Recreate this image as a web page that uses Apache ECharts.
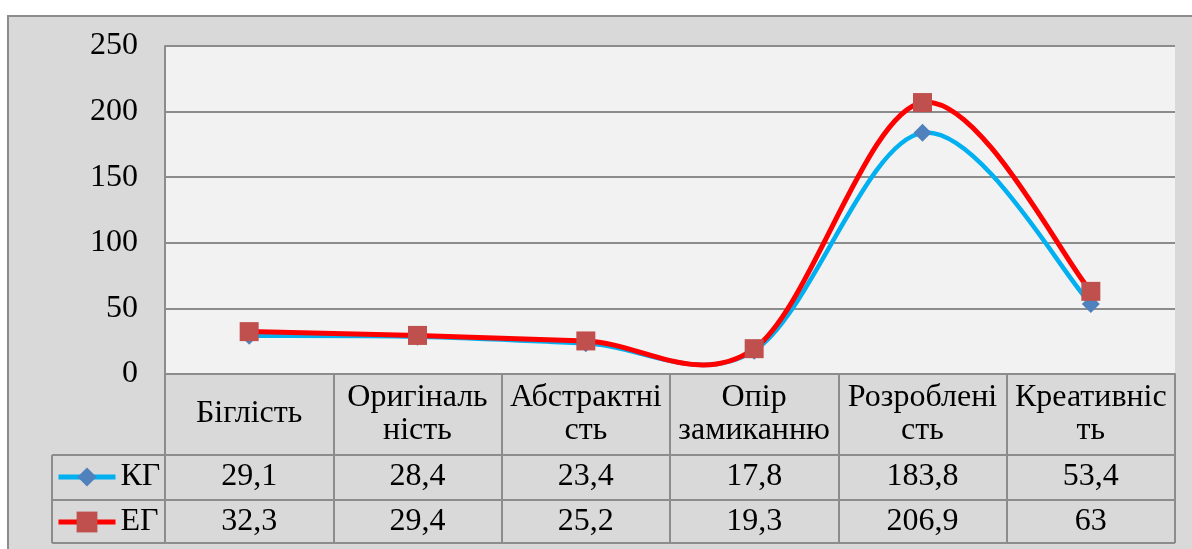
<!DOCTYPE html>
<html><head><meta charset="utf-8">
<script src="https://cdn.jsdelivr.net/npm/echarts@6/dist/echarts.min.js"></script>
<style>html,body{margin:0;padding:0;background:#fff}#c{width:1192px;height:549px}</style>
</head><body><div id="c"></div>
<script>
var categories = ['Біглість', 'Оригіналь\nність', 'Абстрактні\nсть', 'Опір\nзамиканню', 'Розроблені\nсть', 'Креативніс\nть'];
var kgValues = [29.1, 28.4, 23.4, 17.8, 183.8, 53.4];
var egValues = [32.3, 29.4, 25.2, 19.3, 206.9, 63];
var yTicks = {min: 0, max: 250, interval: 50};
var seriesNames = ['КГ', 'ЕГ'];

function fmt(v){ return String(v).replace('.', ','); }
var FONT = '"Liberation Serif", "Times New Roman", serif';
var FS = 32;
var GRID = '#8c8c8c';
var chart = echarts.init(document.getElementById('c'));
function hline(y){ return {type:'line', shape:{x1:52,y1:y,x2:1175,y2:y}, style:{stroke:GRID,lineWidth:2}, z:10}; }
var legText = {fontFamily:FONT,fontSize:FS,color:'#000',lineHeight:32};

// Excel-like smoothed curve (Catmull-Rom) drawn through the axis scales
function curveSeries(name, vals, color, width, z) {
  return {
    name: name, type: 'custom', z: z, silent: true,
    data: vals.map(function(v, i){ return [i, v]; }),
    encode: {x: 0, y: 1},
    renderItem: function(params, api) {
      var i = params.dataIndex, n = vals.length;
      if (i >= n - 1) return null;
      function P(j){ j = Math.max(0, Math.min(n - 1, j)); return api.coord([j, vals[j]]); }
      var p0 = P(i - 1), p1 = P(i), p2 = P(i + 1), p3 = P(i + 2);
      return {
        type: 'bezierCurve',
        shape: {
          x1: p1[0], y1: p1[1], x2: p2[0], y2: p2[1],
          cpx1: p1[0] + (p2[0] - p0[0]) / 6, cpy1: p1[1] + (p2[1] - p0[1]) / 6,
          cpx2: p2[0] - (p3[0] - p1[0]) / 6, cpy2: p2[1] - (p3[1] - p1[1]) / 6
        },
        style: {stroke: color, lineWidth: width, fill: null, lineCap: 'round'}
      };
    }
  };
}
function markerSeries(name, vals, symbol, size, color, z) {
  return {name: name, type: 'line', data: vals, symbol: symbol, symbolSize: size, z: z,
    lineStyle: {width: 0, opacity: 0}, itemStyle: {color: color, opacity: 1}};
}

chart.setOption({
  backgroundColor: '#ffffff',
  animation: false,
  textStyle: {fontFamily: FONT},
  graphic: [
    {type:'rect', shape:{x:8,y:16,width:1200,height:560}, style:{fill:'#d9d9d9',stroke:GRID,lineWidth:2}, z:-10, silent:true},
    hline(455), hline(500), hline(543),
    {type:'line', shape:{x1:52,y1:455,x2:52,y2:543}, style:{stroke:GRID,lineWidth:2}, z:10}
  ],
  grid: {left:165, right:17, top:46, bottom:175, show:true, backgroundColor:'#f2f2f2', borderWidth:0},
  legend: [
    {data:[seriesNames[0]], left:56, top:461, padding:0, itemWidth:57, itemHeight:24,
     lineStyle:{width:5, color:'#00b0f0', opacity:1}, textStyle:legText},
    {data:[seriesNames[1]], left:56, top:506, padding:0, itemWidth:57, itemHeight:26,
     lineStyle:{width:5, color:'#ff0000', opacity:1}, textStyle:legText}
  ],
  xAxis: [
    {type:'category', data:categories, boundaryGap:true,
     axisLine:{show:true,lineStyle:{color:GRID,width:2}},
     axisTick:{show:true,alignWithLabel:false,interval:0,length:169,lineStyle:{color:GRID,width:2}},
     axisLabel:{interval:0,margin:40,verticalAlign:'middle',fontFamily:FONT,fontSize:FS,color:'#000',lineHeight:33}},
    {type:'category', data:kgValues.map(fmt), position:'bottom', offset:103,
     axisLine:{show:false}, axisTick:{show:false},
     axisLabel:{interval:0,margin:0,verticalAlign:'middle',fontFamily:FONT,fontSize:FS,color:'#000'}},
    {type:'category', data:egValues.map(fmt), position:'bottom', offset:148,
     axisLine:{show:false}, axisTick:{show:false},
     axisLabel:{interval:0,margin:0,verticalAlign:'middle',fontFamily:FONT,fontSize:FS,color:'#000'}}
  ],
  yAxis: {type:'value', min:yTicks.min, max:yTicks.max, interval:yTicks.interval,
    axisLine:{show:true,lineStyle:{color:GRID,width:2}}, axisTick:{show:false},
    splitLine:{show:true,lineStyle:{color:GRID,width:2}},
    axisLabel:{margin:27,fontFamily:FONT,fontSize:FS,color:'#000'}},
  series: [
    curveSeries('КГ-лінія', kgValues, '#00b0f0', 4.5, 2),
    markerSeries(seriesNames[0], kgValues, 'diamond', 18, '#4f81bd', 3),
    curveSeries('ЕГ-лінія', egValues, '#ff0000', 5, 4),
    markerSeries(seriesNames[1], egValues, 'rect', 19, '#c0504d', 5)
  ]
});
</script></body></html>
